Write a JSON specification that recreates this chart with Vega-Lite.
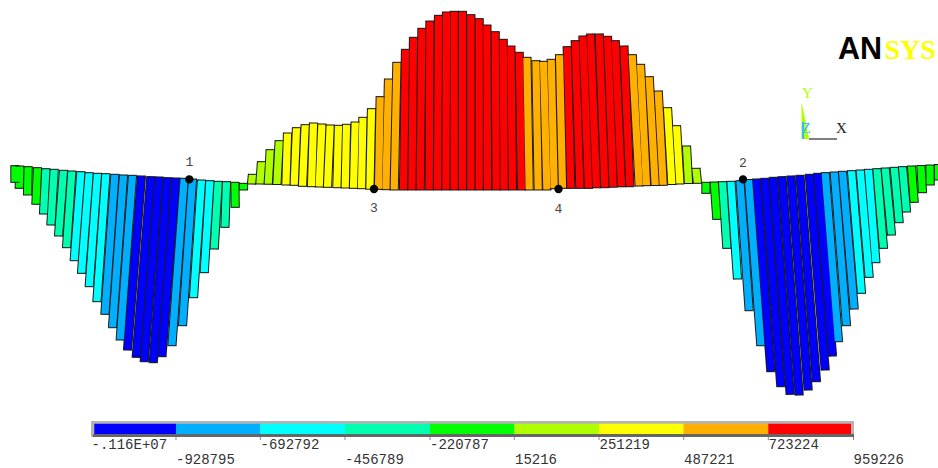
{"$schema":"https://vega.github.io/schema/vega-lite/v6.json","width":938,"height":468,"padding":0,"autosize":{"type":"none"},"background":"#ffffff","view":{"stroke":null},
"config":{"axis":{"domain":false,"grid":false,"ticks":false,"labels":false,"title":null}},
"datasets":{
"bars":[
{"x":14.9,"y":165.7,"x2":14.9,"y2":182.3,"band":"g"},{"x":19.9,"y":166,"x2":19.2,"y2":188.3,"band":"g"},{"x":28.2,"y":166.7,"x2":27.5,"y2":195,"band":"g"},{"x":37.5,"y":167.7,"x2":35.9,"y2":204.3,"band":"g"},
{"x":45.9,"y":168.7,"x2":43.5,"y2":214,"band":"t"},{"x":54.2,"y":169.3,"x2":50.9,"y2":225,"band":"t"},{"x":63.5,"y":170.3,"x2":58.5,"y2":236,"band":"t"},{"x":71.9,"y":171,"x2":66.5,"y2":247.7,"band":"t"},
{"x":80.9,"y":171.7,"x2":74.2,"y2":260.7,"band":"c"},{"x":89.2,"y":172.7,"x2":81.5,"y2":273.3,"band":"c"},{"x":97.5,"y":173.3,"x2":89.2,"y2":286.7,"band":"c"},{"x":105.9,"y":173.7,"x2":96.9,"y2":301.7,"band":"c"},
{"x":114.9,"y":174.3,"x2":104.9,"y2":314.3,"band":"l"},{"x":123.5,"y":175,"x2":112.5,"y2":327.7,"band":"l"},{"x":132.5,"y":175.3,"x2":120.2,"y2":340,"band":"l"},
{"x":141.5,"y":176,"x2":127.5,"y2":350,"band":"b"},{"x":150.9,"y":176.7,"x2":136.2,"y2":357.3,"band":"b"},{"x":159.2,"y":177,"x2":144.2,"y2":361.7,"band":"b"},{"x":167.5,"y":177.7,"x2":153.2,"y2":362.7,"band":"b"},{"x":175.9,"y":178,"x2":161.9,"y2":356.7,"band":"b"},
{"x":184.2,"y":178.3,"x2":171.9,"y2":345.7,"band":"l"},{"x":192.5,"y":179,"x2":182.5,"y2":325.7,"band":"l"},{"x":201.5,"y":180,"x2":193.5,"y2":297.7,"band":"c"},{"x":209.9,"y":180.7,"x2":204.2,"y2":272.7,"band":"c"},
{"x":218.2,"y":181.3,"x2":214.2,"y2":249,"band":"t"},{"x":226.5,"y":181.7,"x2":224.9,"y2":227.3,"band":"t"},{"x":234.9,"y":182.3,"x2":235.2,"y2":207.3,"band":"g"},{"x":243.5,"y":183.3,"x2":243.5,"y2":190,"band":"g"},
{"x":251.5,"y":184,"x2":252.5,"y2":174.3,"band":"n"},{"x":259.9,"y":184,"x2":261.5,"y2":161.7,"band":"n"},{"x":268.2,"y":184.2,"x2":270.2,"y2":149.7,"band":"n"},{"x":276.9,"y":184.5,"x2":279.2,"y2":140.7,"band":"n"},
{"x":285.9,"y":185,"x2":287.5,"y2":133,"band":"y"},{"x":294.2,"y":185.3,"x2":296.5,"y2":127.7,"band":"y"},{"x":302.5,"y":186.3,"x2":305.2,"y2":124.7,"band":"y"},{"x":311.5,"y":186.7,"x2":313.5,"y2":123,"band":"y"},{"x":319.2,"y":187,"x2":321.9,"y2":124,"band":"y"},{"x":327.5,"y":187.3,"x2":330.2,"y2":125,"band":"y"},{"x":336.9,"y":187.7,"x2":338.5,"y2":125.3,"band":"y"},{"x":345.2,"y":188,"x2":346.5,"y2":124.3,"band":"y"},{"x":353.5,"y":188.3,"x2":355.2,"y2":122,"band":"y"},{"x":361.5,"y":188.7,"x2":362.9,"y2":117.3,"band":"y"},{"x":369.9,"y":189.2,"x2":371.5,"y2":108.7,"band":"y"},
{"x":378.5,"y":189.3,"x2":380.2,"y2":96.7,"band":"o"},{"x":385.9,"y":189.7,"x2":388.5,"y2":79,"band":"o"},{"x":394.2,"y":190,"x2":396.9,"y2":62.3,"band":"o"},
{"x":403.5,"y":190,"x2":405.5,"y2":49.3,"band":"r"},{"x":411.9,"y":190,"x2":413.5,"y2":37.3,"band":"r"},{"x":420.2,"y":190,"x2":421.9,"y2":28.3,"band":"r"},{"x":429.2,"y":190,"x2":429.9,"y2":21,"band":"r"},{"x":437.5,"y":190,"x2":438.5,"y2":15.3,"band":"r"},{"x":445.9,"y":190,"x2":446.5,"y2":12,"band":"r"},{"x":454.2,"y":190,"x2":454.2,"y2":11.3,"band":"r"},{"x":462.5,"y":190,"x2":462.5,"y2":11.3,"band":"r"},{"x":470.9,"y":190,"x2":470.9,"y2":14.7,"band":"r"},{"x":479.2,"y":190,"x2":479.2,"y2":18.7,"band":"r"},{"x":487.5,"y":190,"x2":486.9,"y2":25,"band":"r"},{"x":496.2,"y":190,"x2":495.2,"y2":31.7,"band":"r"},{"x":504.2,"y":190,"x2":503.2,"y2":39.3,"band":"r"},{"x":512.5,"y":190,"x2":510.9,"y2":46,"band":"r"},{"x":521.5,"y":190,"x2":519.2,"y2":52.3,"band":"r"},
{"x":529.2,"y":190,"x2":526.9,"y2":57.3,"band":"o"},{"x":538.2,"y":190,"x2":535.9,"y2":60.7,"band":"o"},{"x":546.9,"y":190,"x2":543.5,"y2":61.3,"band":"o"},{"x":554.2,"y":188.7,"x2":551.2,"y2":59.3,"band":"o"},{"x":562.5,"y":188.3,"x2":559.5,"y2":54.7,"band":"o"},
{"x":570.9,"y":188.3,"x2":567.2,"y2":46.7,"band":"r"},{"x":579.9,"y":188.3,"x2":575.2,"y2":40.7,"band":"r"},{"x":588.5,"y":188.3,"x2":582.9,"y2":36,"band":"r"},{"x":596.5,"y":187.8,"x2":590.5,"y2":34,"band":"r"},{"x":604.9,"y":187.7,"x2":599.2,"y2":34,"band":"r"},{"x":613.2,"y":187.2,"x2":607.5,"y2":36.3,"band":"r"},{"x":621.5,"y":186.8,"x2":615.2,"y2":40.7,"band":"r"},{"x":629.9,"y":186.7,"x2":623.9,"y2":46,"band":"r"},
{"x":639.2,"y":186,"x2":632.2,"y2":54.7,"band":"o"},{"x":646.5,"y":185.7,"x2":640.5,"y2":64.3,"band":"o"},{"x":655.2,"y":185.5,"x2":649.2,"y2":76.7,"band":"o"},{"x":663.2,"y":185.3,"x2":658.2,"y2":91,"band":"o"},
{"x":671.9,"y":184.5,"x2":667.5,"y2":107.7,"band":"y"},{"x":679.9,"y":184,"x2":676.5,"y2":125.7,"band":"y"},{"x":688.5,"y":183.5,"x2":686.5,"y2":146,"band":"n"},{"x":697.5,"y":183.3,"x2":695.9,"y2":168.3,"band":"n"},
{"x":705.9,"y":182.3,"x2":705.9,"y2":193.3,"band":"g"},{"x":714.2,"y":182,"x2":716.9,"y2":219.3,"band":"g"},{"x":722.5,"y":181.7,"x2":726.9,"y2":248.3,"band":"t"},{"x":730.9,"y":181.3,"x2":737.5,"y2":279,"band":"c"},{"x":739.9,"y":180.7,"x2":749.2,"y2":310.7,"band":"l"},{"x":748.5,"y":179.5,"x2":760.9,"y2":345.7,"band":"l"},
{"x":756.5,"y":179,"x2":770.9,"y2":371.7,"band":"b"},{"x":764.9,"y":178.3,"x2":780.9,"y2":386.7,"band":"b"},{"x":773.2,"y":177.3,"x2":790.2,"y2":394.3,"band":"b"},{"x":781.9,"y":176.7,"x2":799.2,"y2":395,"band":"b"},{"x":790.9,"y":176,"x2":808.2,"y2":390,"band":"b"},{"x":799.9,"y":175.3,"x2":816.5,"y2":381.7,"band":"b"},{"x":809.2,"y":174.3,"x2":825.2,"y2":370,"band":"b"},{"x":817.5,"y":173.3,"x2":832.5,"y2":356,"band":"b"},
{"x":825.2,"y":172.7,"x2":838.5,"y2":341.7,"band":"l"},{"x":834.2,"y":172,"x2":846.5,"y2":325.7,"band":"l"},{"x":842.5,"y":171.3,"x2":854.2,"y2":309,"band":"l"},
{"x":851.5,"y":170.7,"x2":861.5,"y2":293.3,"band":"c"},{"x":860.2,"y":170,"x2":869.2,"y2":277.3,"band":"c"},{"x":868.5,"y":169.3,"x2":875.9,"y2":262.7,"band":"c"},
{"x":876.9,"y":168.7,"x2":883.5,"y2":248.3,"band":"t"},{"x":885.2,"y":168,"x2":891.5,"y2":235,"band":"t"},{"x":894.2,"y":167.3,"x2":899.2,"y2":222.7,"band":"t"},{"x":902.5,"y":166.7,"x2":906.5,"y2":212,"band":"t"},
{"x":911.5,"y":166,"x2":914.2,"y2":202.3,"band":"g"},{"x":920.9,"y":165.5,"x2":922.5,"y2":192.7,"band":"g"},{"x":929.9,"y":165,"x2":930.2,"y2":185,"band":"g"},{"x":938.5,"y":164.5,"x2":938.5,"y2":180,"band":"g"}
],
"legend":[{"band":"b","x":94.3,"x2":176},{"band":"l","x":176,"x2":260.3},{"band":"c","x":260.3,"x2":345},{"band":"t","x":345,"x2":430},{"band":"g","x":430,"x2":514.3},{"band":"n","x":514.3,"x2":599},{"band":"y","x":599,"x2":683.7},{"band":"o","x":683.7,"x2":768.3},{"band":"r","x":768.3,"x2":851}],
"labels":[{"t":"-.116E+07","x":91.5,"y":449},{"t":"-928795","x":176,"y":463.5},{"t":"-692792","x":260.5,"y":449},{"t":"-456789","x":345,"y":463.5},{"t":"-220787","x":430,"y":449},{"t":"15216","x":515,"y":463.5},{"t":"251219","x":599.5,"y":449},{"t":"487221","x":684,"y":463.5},{"t":"723224","x":768.5,"y":449},{"t":"959226","x":853.5,"y":463.5}],
"ticks":[{"x":176},{"x":260.3},{"x":345},{"x":430},{"x":514.3},{"x":599},{"x":683.7},{"x":768.3},{"x":853.5}],
"nodes":[{"t":"1","x":189.3,"y":179.4,"ty":166},{"t":"2","x":743,"y":179.4,"ty":167},{"t":"3","x":374,"y":189,"ty":212},{"t":"4","x":558.5,"y":189,"ty":212.5}]
},
"layer":[
{"data":{"name":"legend"},"mark":{"type":"rect","fill":"#b4b4b4"},"encoding":{"x":{"datum":91,"type":"quantitative","scale":{"domain":[0,938],"nice":false,"zero":false},"axis":null},"x2":{"datum":854},"y":{"datum":421,"type":"quantitative","scale":{"domain":[468,0],"nice":false,"zero":false},"axis":null},"y2":{"datum":437}}},
{"data":{"name":"legend"},"mark":{"type":"rect","fill":"#666666"},"encoding":{"x":{"datum":93,"type":"quantitative","scale":{"domain":[0,938],"nice":false,"zero":false},"axis":null},"x2":{"datum":854},"y":{"datum":434,"type":"quantitative","scale":{"domain":[468,0],"nice":false,"zero":false},"axis":null},"y2":{"datum":437}}},
{"data":{"name":"legend"},"mark":{"type":"rect"},"encoding":{"x":{"field":"x","type":"quantitative","scale":{"domain":[0,938],"nice":false,"zero":false},"axis":null},"x2":{"field":"x2"},"y":{"datum":423.7,"type":"quantitative","scale":{"domain":[468,0],"nice":false,"zero":false},"axis":null},"y2":{"datum":434},"color":{"field":"band","type":"nominal","legend":null,"scale":{"domain":["b","l","c","t","g","n","y","o","r"],"range":["#0000ff","#00b0ff","#00ffff","#00ffb0","#00ff00","#b0ff00","#ffff00","#ffb000","#ff0000"]}}}},
{"data":{"name":"ticks"},"mark":{"type":"rule","stroke":"#888888","strokeWidth":1},"encoding":{"x":{"field":"x","type":"quantitative","scale":{"domain":[0,938],"nice":false,"zero":false},"axis":null},"y":{"datum":437,"type":"quantitative","scale":{"domain":[468,0],"nice":false,"zero":false},"axis":null},"y2":{"datum":440}}},
{"data":{"name":"labels"},"mark":{"type":"text","font":"Liberation Mono","fontSize":14,"align":"left","baseline":"alphabetic","fill":"#333333"},"encoding":{"x":{"field":"x","type":"quantitative","scale":{"domain":[0,938],"nice":false,"zero":false},"axis":null},"y":{"field":"y","type":"quantitative","scale":{"domain":[468,0],"nice":false,"zero":false},"axis":null},"text":{"field":"t"}}},
{"data":{"name":"bars"},"mark":{"type":"rule","stroke":"#1a1a1a","strokeWidth":9.2},"encoding":{"x":{"field":"x","type":"quantitative","scale":{"domain":[0,938],"nice":false,"zero":false},"axis":null},"x2":{"field":"x2"},"y":{"field":"y","type":"quantitative","scale":{"domain":[468,0],"nice":false,"zero":false},"axis":null},"y2":{"field":"y2"}}},
{"data":{"name":"bars"},"mark":{"type":"rule","strokeWidth":7.2},"encoding":{"x":{"field":"x","type":"quantitative","scale":{"domain":[0,938],"nice":false,"zero":false},"axis":null},"x2":{"field":"x2"},"y":{"field":"y","type":"quantitative","scale":{"domain":[468,0],"nice":false,"zero":false},"axis":null},"y2":{"field":"y2"},"color":{"field":"band","type":"nominal","legend":null}}},
{"data":{"name":"bars"},"mark":{"type":"tick","orient":"horizontal","color":"#1a1a1a","size":9,"thickness":1,"opacity":1},"encoding":{"x":{"field":"x2","type":"quantitative","scale":{"domain":[0,938],"nice":false,"zero":false},"axis":null},"y":{"field":"y2","type":"quantitative","scale":{"domain":[468,0],"nice":false,"zero":false},"axis":null}}},
{"data":{"name":"bars"},"mark":{"type":"tick","orient":"horizontal","color":"#1a1a1a","size":9,"thickness":1,"opacity":1},"encoding":{"x":{"field":"x","type":"quantitative","scale":{"domain":[0,938],"nice":false,"zero":false},"axis":null},"y":{"field":"y","type":"quantitative","scale":{"domain":[468,0],"nice":false,"zero":false},"axis":null}}},
{"data":{"name":"nodes"},"mark":{"type":"point","filled":true,"color":"#000000","size":70,"opacity":1},"encoding":{"x":{"field":"x","type":"quantitative","scale":{"domain":[0,938],"nice":false,"zero":false},"axis":null},"y":{"field":"y","type":"quantitative","scale":{"domain":[468,0],"nice":false,"zero":false},"axis":null}}},
{"data":{"name":"nodes"},"mark":{"type":"text","font":"Liberation Mono","fontSize":13,"align":"center","baseline":"alphabetic","fill":"#444444"},"encoding":{"x":{"field":"x","type":"quantitative","scale":{"domain":[0,938],"nice":false,"zero":false},"axis":null},"y":{"field":"ty","type":"quantitative","scale":{"domain":[468,0],"nice":false,"zero":false},"axis":null},"text":{"field":"t"}}},
{"data":{"values":[{"t":"AN","x":838,"y":59.3}]},"mark":{"type":"text","font":"Liberation Sans","fontWeight":"bold","fontSize":30.5,"align":"left","baseline":"alphabetic","fill":"#000000"},"encoding":{"x":{"field":"x","type":"quantitative","scale":{"domain":[0,938],"nice":false,"zero":false},"axis":null},"y":{"field":"y","type":"quantitative","scale":{"domain":[468,0],"nice":false,"zero":false},"axis":null},"text":{"field":"t"}}},
{"data":{"values":[{"t":"SYS","x":884.5,"y":59.3}]},"mark":{"type":"text","font":"Liberation Serif","fontWeight":"bold","fontSize":28,"align":"left","baseline":"alphabetic","fill":"#ffff00"},"encoding":{"x":{"field":"x","type":"quantitative","scale":{"domain":[0,938],"nice":false,"zero":false},"axis":null},"y":{"field":"y","type":"quantitative","scale":{"domain":[468,0],"nice":false,"zero":false},"axis":null},"text":{"field":"t"}}},
{"data":{"values":[{"x":801.5,"xe":802,"y":104},{"x":801.5,"xe":809,"y":139}]},"mark":{"type":"area","orient":"horizontal","fill":"#b0ff00"},"encoding":{"x":{"field":"x","type":"quantitative","scale":{"domain":[0,938],"nice":false,"zero":false},"axis":null},"x2":{"field":"xe"},"y":{"field":"y","type":"quantitative","scale":{"domain":[468,0],"nice":false,"zero":false},"axis":null}}},
{"data":{"values":[{"x":803,"y":122,"y2":139}]},"mark":{"type":"rule","stroke":"#33bbff","strokeWidth":2},"encoding":{"x":{"field":"x","type":"quantitative","scale":{"domain":[0,938],"nice":false,"zero":false},"axis":null},"y":{"field":"y","type":"quantitative","scale":{"domain":[468,0],"nice":false,"zero":false},"axis":null},"y2":{"field":"y2"}}},
{"data":{"values":[{"x":809,"x2":837,"y":139}]},"mark":{"type":"rule","stroke":"#000000","strokeWidth":1},"encoding":{"x":{"field":"x","type":"quantitative","scale":{"domain":[0,938],"nice":false,"zero":false},"axis":null},"x2":{"field":"x2"},"y":{"field":"y","type":"quantitative","scale":{"domain":[468,0],"nice":false,"zero":false},"axis":null}}},
{"data":{"values":[{"t":"Y","x":807.5,"y":98}]},"mark":{"type":"text","font":"Liberation Serif","fontSize":15,"align":"center","baseline":"alphabetic","fill":"#b0ff00"},"encoding":{"x":{"field":"x","type":"quantitative","scale":{"domain":[0,938],"nice":false,"zero":false},"axis":null},"y":{"field":"y","type":"quantitative","scale":{"domain":[468,0],"nice":false,"zero":false},"axis":null},"text":{"field":"t"}}},
{"data":{"values":[{"t":"Z","x":806,"y":133}]},"mark":{"type":"text","font":"Liberation Serif","fontSize":15,"align":"center","baseline":"alphabetic","fill":"#33bbff"},"encoding":{"x":{"field":"x","type":"quantitative","scale":{"domain":[0,938],"nice":false,"zero":false},"axis":null},"y":{"field":"y","type":"quantitative","scale":{"domain":[468,0],"nice":false,"zero":false},"axis":null},"text":{"field":"t"}}},
{"data":{"values":[{"t":"X","x":841.5,"y":133}]},"mark":{"type":"text","font":"Liberation Serif","fontSize":15,"align":"center","baseline":"alphabetic","fill":"#222222"},"encoding":{"x":{"field":"x","type":"quantitative","scale":{"domain":[0,938],"nice":false,"zero":false},"axis":null},"y":{"field":"y","type":"quantitative","scale":{"domain":[468,0],"nice":false,"zero":false},"axis":null},"text":{"field":"t"}}}
]}
